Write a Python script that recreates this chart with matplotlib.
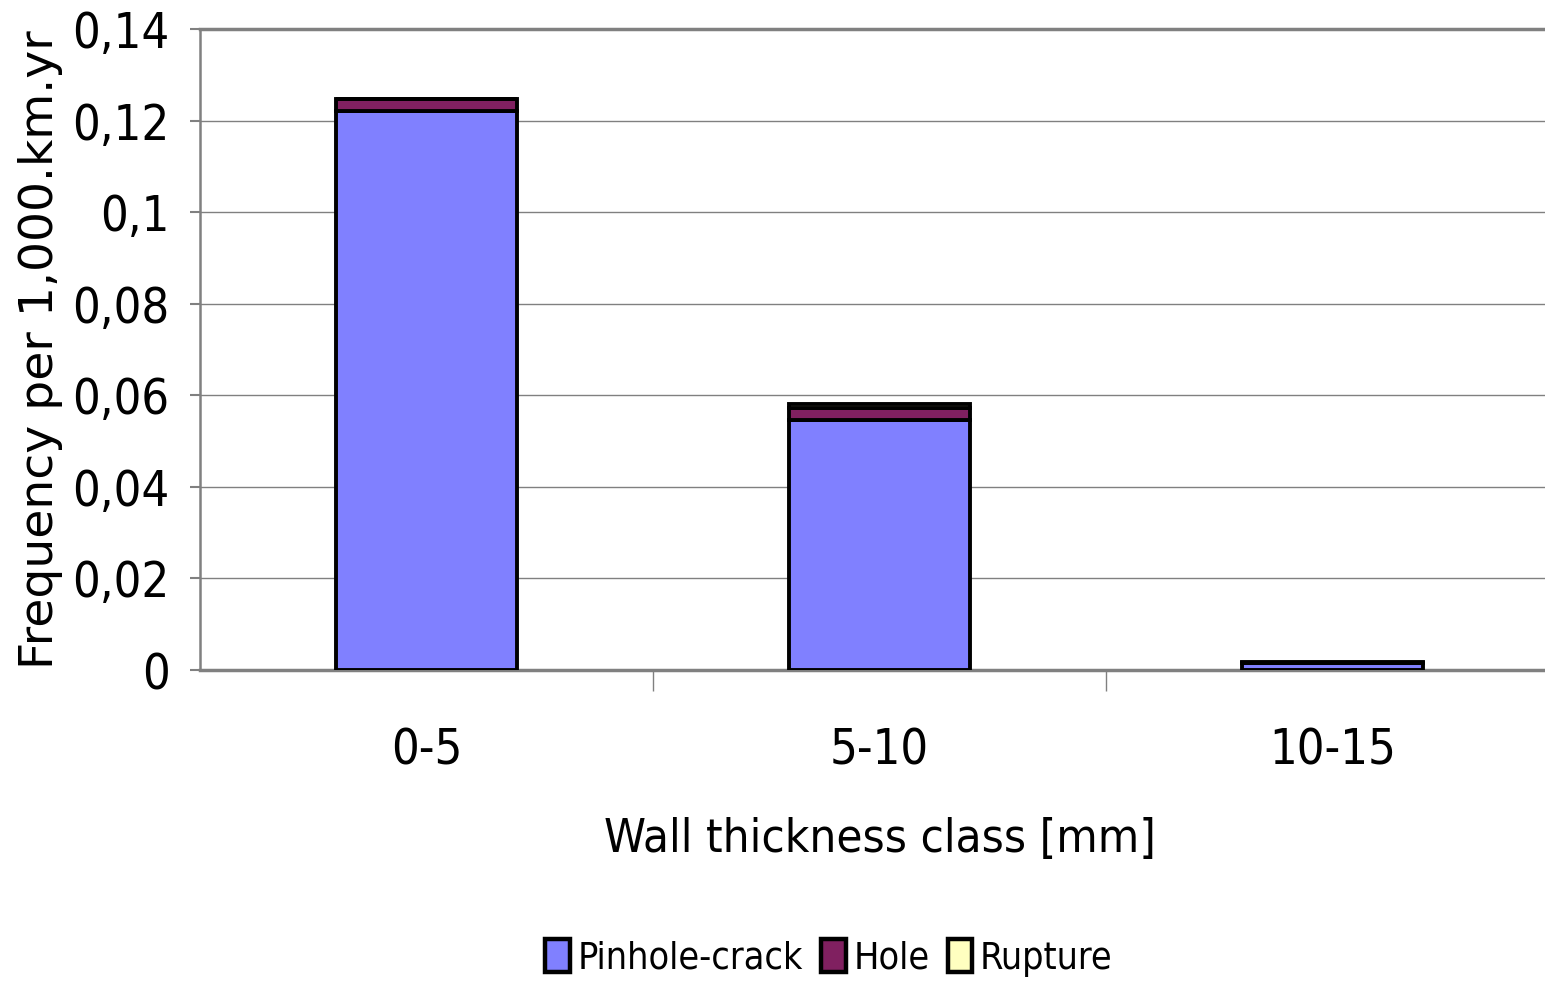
import matplotlib
matplotlib.use("Agg")
import matplotlib.pyplot as plt
from matplotlib import font_manager
import numpy as np

categories = ["0-5", "5-10", "10-15"]
pinhole_crack = [0.1220, 0.0545, 0.0015]
hole = [0.0027, 0.0027, 0.0001]
rupture = [0.0001, 0.0010, 0.0001]
yticks = [0, 0.02, 0.04, 0.06, 0.08, 0.1, 0.12, 0.14]
ytick_labels = ["0", "0,02", "0,04", "0,06", "0,08", "0,1", "0,12", "0,14"]

plt.rcParams['font.family'] = ['DejaVu Sans']

fig = plt.figure(figsize=(15.45, 9.81), dpi=100)
W, H = 1545, 981
left, right, top, bottom = 200, 1559, 29, 670
ax = fig.add_axes([left / W, 1 - bottom / H, (right - left) / W, (bottom - top) / H])

x = np.arange(len(categories))
w = 0.40
ec = "black"
lw = 2.8
ax.bar(x, pinhole_crack, w, color="#8080FF", edgecolor=ec, linewidth=lw, label="Pinhole-crack", zorder=3)
b2 = np.array(pinhole_crack)
ax.bar(x, hole, w, bottom=b2, color="#802060", edgecolor=ec, linewidth=lw, label="Hole", zorder=3)
b3 = b2 + np.array(hole)
ax.bar(x, rupture, w, bottom=b3, color="#FFFFC0", edgecolor=ec, linewidth=lw, label="Rupture", zorder=3)

ax.set_xlim(-0.5, 2.5)
ax.set_ylim(0, 0.14)
ax.set_yticks(yticks)
ax.set_yticklabels(ytick_labels, fontsize=35, fontstretch='condensed')
ax.yaxis.grid(True, color="#808080", linewidth=1.0, zorder=0)
ax.set_axisbelow(True)

ax.set_xticks(x)
ax.set_xticklabels(categories, fontsize=35, fontstretch='condensed')
ax.tick_params(axis='x', length=0, pad=41)
ax.set_xticks([0.5, 1.5], minor=True)
ax.tick_params(axis='x', which='minor', length=15, width=1, color="#808080")
ax.tick_params(axis='y', length=7, width=1.5, color="#808080", pad=15)

ax.spines["right"].set_visible(False)
ax.spines["top"].set_color("#808080")
ax.spines["top"].set_linewidth(2.5)
ax.spines["bottom"].set_color("#808080")
ax.spines["bottom"].set_linewidth(2.5)
ax.spines["left"].set_color("#808080")
ax.spines["left"].set_linewidth(1.8)

ax.set_xlabel("Wall thickness class [mm]", fontsize=34, fontstretch='condensed', labelpad=30)
ax.set_ylabel("Frequency per 1,000.km.yr", fontsize=34)
ax.yaxis.set_label_coords(-137 / (right - left), 0.5)

leg = fig.legend(loc="center", bbox_to_anchor=(829 / W, 1 - 958 / H), ncol=3, frameon=False,
                 prop=font_manager.FontProperties(family='DejaVu Sans', stretch='condensed', size=27),
                 handlelength=0.65, handleheight=0.95, handletextpad=0.2,
                 columnspacing=0.5)
for h in leg.legend_handles:
    h.set_linewidth(3.2)

fig.savefig("out.png", dpi=100)
